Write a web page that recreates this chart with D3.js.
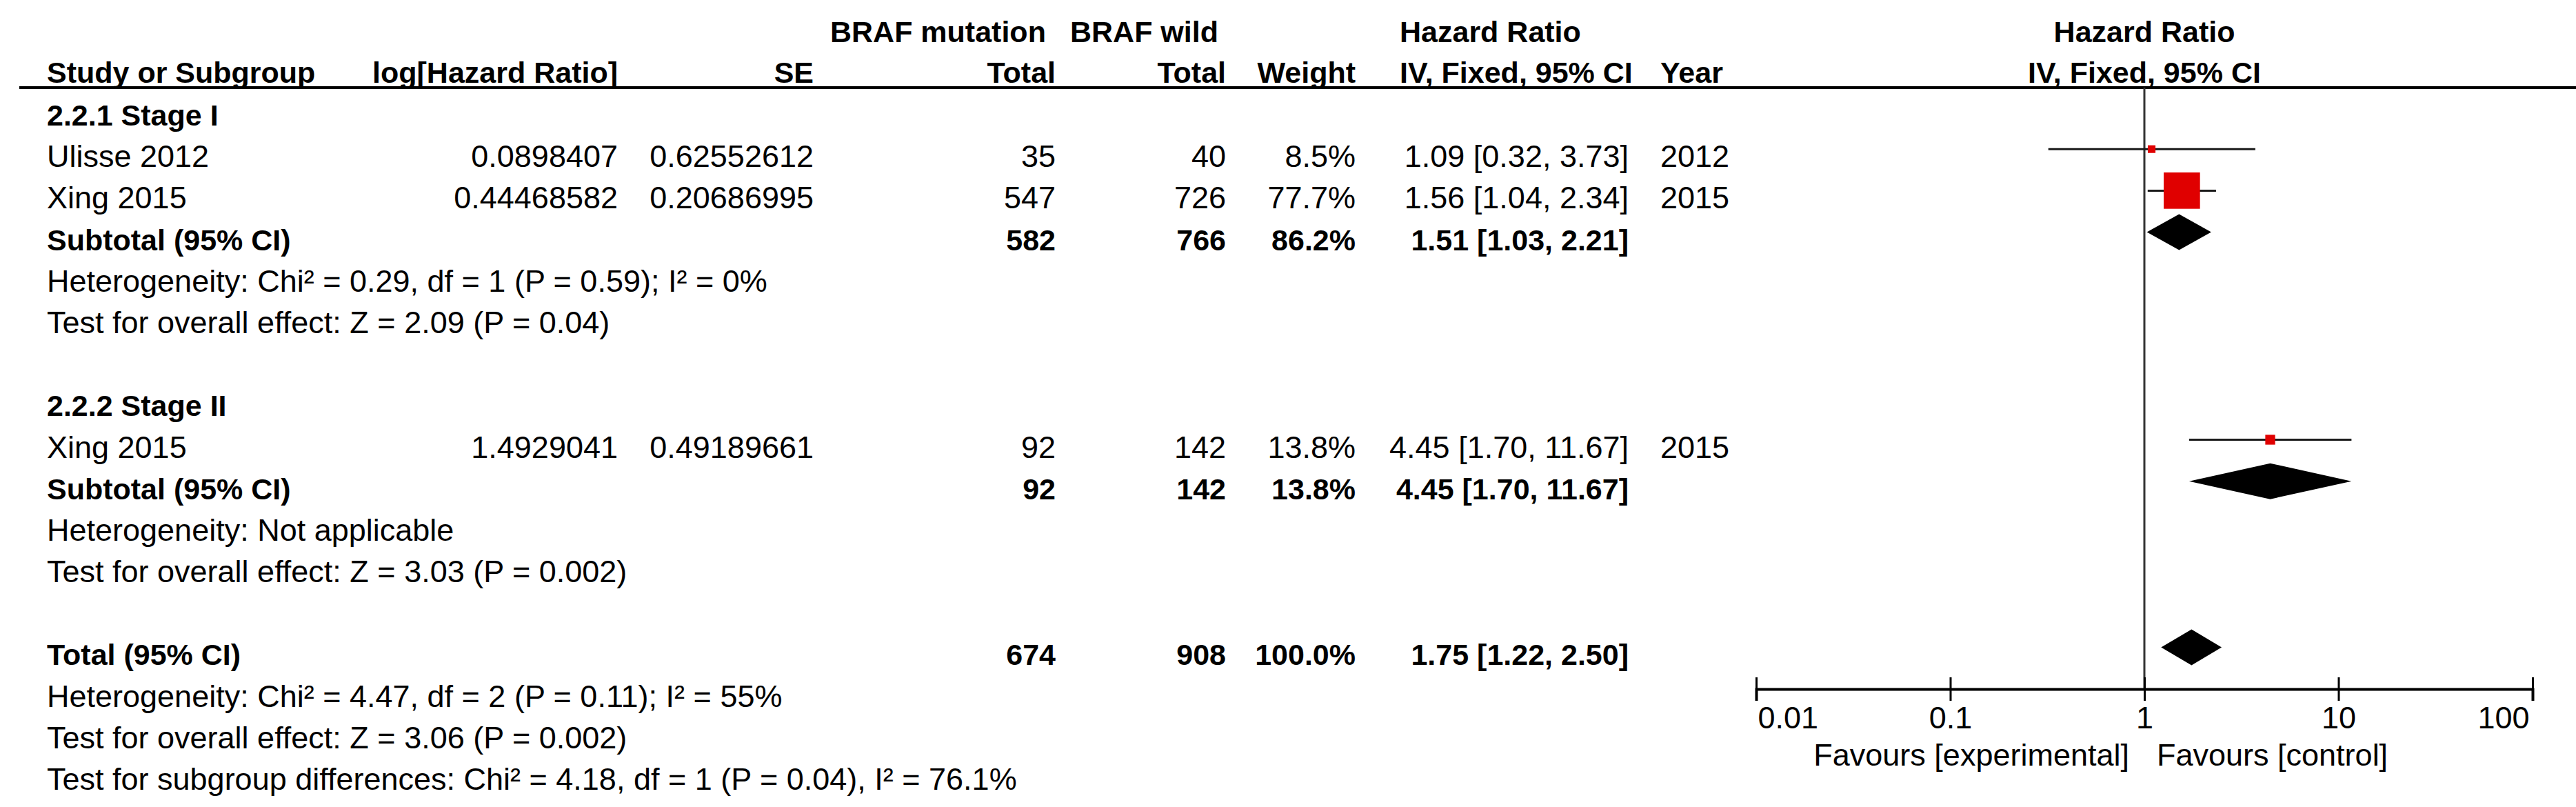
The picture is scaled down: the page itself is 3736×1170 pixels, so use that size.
<!DOCTYPE html>
<html>
<head>
<meta charset="utf-8">
<script src="https://cdn.jsdelivr.net/npm/d3@7"></script>
<style>
html,body{margin:0;padding:0;background:#fff;}
svg text{font-family:"Liberation Sans",Arial,sans-serif;fill:#000;}
</style>
</head>
<body>
<svg id="chart" width="3736" height="1170"></svg>
<script>
// ---------- data ----------
const groupNames = ["2.2.1 Stage I", "2.2.2 Stage II"];
const studyNames = ["Ulisse 2012", "Xing 2015", "Xing 2015"];
const studyGroup = [0, 0, 1];
const logHR = ["0.0898407", "0.44468582", "1.4929041"];
const seVals = ["0.62552612", "0.20686995", "0.49189661"];
const mutTotal = [35, 547, 92];
const wildTotal = [40, 726, 142];
const weights = [8.5, 77.7, 13.8];
const hrVals = [1.09, 1.56, 4.45];
const hrLow = [0.32, 1.04, 1.70];
const hrHigh = [3.73, 2.34, 11.67];
const years = [2012, 2015, 2015];

const subMut = [582, 92];
const subWild = [766, 142];
const subWeight = [86.2, 13.8];
const subHR = [1.51, 4.45];
const subLow = [1.03, 1.70];
const subHigh = [2.21, 11.67];
const subHet = ["Heterogeneity: Chi² = 0.29, df = 1 (P = 0.59); I² = 0%", "Heterogeneity: Not applicable"];
const subEffect = ["Test for overall effect: Z = 2.09 (P = 0.04)", "Test for overall effect: Z = 3.03 (P = 0.002)"];

const totalMut = 674;
const totalWild = 908;
const totalWeight = 100.0;
const totalHR = 1.75, totalLow = 1.22, totalHigh = 2.50;
const totalNotes = [
  "Heterogeneity: Chi² = 4.47, df = 2 (P = 0.11); I² = 55%",
  "Test for overall effect: Z = 3.06 (P = 0.002)",
  "Test for subgroup differences: Chi² = 4.18, df = 1 (P = 0.04), I² = 76.1%"
];

const tickValues = [0.01, 0.1, 1, 10, 100];
const tickLabels = ["0.01", "0.1", "1", "10", "100"];
const favourLabels = ["Favours [experimental]", "Favours [control]"];

// ---------- layout ----------
const svg = d3.select("#chart");
const rowY = d3.scaleLinear().domain([0, 16]).range([182, 1145]);
const x = d3.scaleLog().domain([0.01, 100]).range([2547, 3673]);
const boxSize = d3.scaleLinear().domain([0, 100]).range([6, 66]);
const fmt2 = d3.format(".2f");
const fmt1 = d3.format(".1f");
const REG = 45, BOLD = 43, MARK_OFF = 26;

const col = {study: 68, logHR: 896, se: 1180, mut: 1531, wild: 1778, weight: 1966, hr: 2362, year: 2408};

function txt(xp, yp, s, opts = {}) {
  return svg.append("text")
    .attr("x", xp).attr("y", yp)
    .attr("text-anchor", opts.anchor || "start")
    .attr("font-size", opts.bold ? BOLD : REG)
    .attr("font-weight", opts.bold ? "bold" : "normal")
    .text(s);
}
const ciText = (h, l, u) => `${fmt2(h)} [${fmt2(l)}, ${fmt2(u)}]`;

// headers
const h1 = 61, h2 = 120;
txt(1204, h1, "BRAF mutation", {bold: true});
txt(1552, h1, "BRAF wild", {bold: true});
txt(2030, h1, "Hazard Ratio", {bold: true});
txt(x(1), h1, "Hazard Ratio", {bold: true, anchor: "middle"});
txt(col.study, h2, "Study or Subgroup", {bold: true});
txt(col.logHR, h2, "log[Hazard Ratio]", {bold: true, anchor: "end"});
txt(col.se, h2, "SE", {bold: true, anchor: "end"});
txt(col.mut, h2, "Total", {bold: true, anchor: "end"});
txt(col.wild, h2, "Total", {bold: true, anchor: "end"});
txt(col.weight, h2, "Weight", {bold: true, anchor: "end"});
txt(2030, h2, "IV, Fixed, 95% CI", {bold: true});
txt(col.year, h2, "Year", {bold: true});
txt(x(1), h2, "IV, Fixed, 95% CI", {bold: true, anchor: "middle"});

// header rule
svg.append("line").attr("x1", 28).attr("x2", 3736).attr("y1", 127).attr("y2", 127)
  .attr("stroke", "#000").attr("stroke-width", 4);

// null line
svg.append("line").attr("x1", x(1)).attr("x2", x(1)).attr("y1", 127).attr("y2", 998)
  .attr("stroke", "#333").attr("stroke-width", 3);

// rows
const marks = svg.append("g");
function diamond(yc, h, l, u) {
  const hh = 26;
  marks.append("path")
    .attr("d", `M${x(l)},${yc} L${x(h)},${yc - hh} L${x(u)},${yc} L${x(h)},${yc + hh} Z`)
    .attr("fill", "#000");
}

let r = 0;
groupNames.forEach((g, gi) => {
  txt(col.study, rowY(r), g, {bold: true});
  r++;
  studyNames.forEach((s, i) => {
    if (studyGroup[i] !== gi) return;
    const y = rowY(r);
    txt(col.study, y, s);
    txt(col.logHR, y, logHR[i], {anchor: "end"});
    txt(col.se, y, seVals[i], {anchor: "end"});
    txt(col.mut, y, mutTotal[i], {anchor: "end"});
    txt(col.wild, y, wildTotal[i], {anchor: "end"});
    txt(col.weight, y, fmt1(weights[i]) + "%", {anchor: "end"});
    txt(col.hr, y, ciText(hrVals[i], hrLow[i], hrHigh[i]), {anchor: "end"});
    txt(col.year, y, years[i]);
    const yc = y - MARK_OFF;
    marks.append("line").attr("x1", x(hrLow[i])).attr("x2", x(hrHigh[i]))
      .attr("y1", yc).attr("y2", yc).attr("stroke", "#1a1a1a").attr("stroke-width", 3);
    const b = boxSize(weights[i]);
    marks.append("rect").attr("x", x(hrVals[i]) - b / 2).attr("y", yc - b / 2)
      .attr("width", b).attr("height", b).attr("fill", "#e00000");
    r++;
  });
  const ys = rowY(r);
  txt(col.study, ys, "Subtotal (95% CI)", {bold: true});
  txt(col.mut, ys, subMut[gi], {bold: true, anchor: "end"});
  txt(col.wild, ys, subWild[gi], {bold: true, anchor: "end"});
  txt(col.weight, ys, fmt1(subWeight[gi]) + "%", {bold: true, anchor: "end"});
  txt(col.hr, ys, ciText(subHR[gi], subLow[gi], subHigh[gi]), {bold: true, anchor: "end"});
  diamond(ys - MARK_OFF, subHR[gi], subLow[gi], subHigh[gi]);
  r++;
  txt(col.study, rowY(r), subHet[gi]); r++;
  txt(col.study, rowY(r), subEffect[gi]); r++;
  r++; // blank
});

const yt = rowY(r);
txt(col.study, yt, "Total (95% CI)", {bold: true});
txt(col.mut, yt, totalMut, {bold: true, anchor: "end"});
txt(col.wild, yt, totalWild, {bold: true, anchor: "end"});
txt(col.weight, yt, fmt1(totalWeight) + "%", {bold: true, anchor: "end"});
txt(col.hr, yt, ciText(totalHR, totalLow, totalHigh), {bold: true, anchor: "end"});
diamond(yt - MARK_OFF, totalHR, totalLow, totalHigh);
r++;
totalNotes.forEach(n => { txt(col.study, rowY(r), n); r++; });

// axis
const axisY = 999;
const axis = d3.axisBottom(x).tickValues(tickValues)
  .tickFormat((d, i) => tickLabels[i]).tickSizeOuter(0).tickSize(17);
const ag = svg.append("g").attr("transform", `translate(0,${axisY})`).call(axis);
ag.select(".domain").attr("stroke", "#000").attr("stroke-width", 4);
ag.selectAll(".tick line").attr("y1", -17).attr("y2", 17).attr("stroke", "#000").attr("stroke-width", 3);
ag.selectAll(".tick text")
  .attr("y", 57).attr("dy", null)
  .attr("font-size", REG)
  .attr("font-family", "'Liberation Sans', Arial, sans-serif")
  .attr("fill", "#000")
  .attr("text-anchor", (d, i) => i === 0 ? "start" : (i === tickValues.length - 1 ? "end" : "middle"));
ag.selectAll(".tick text").attr("x", (d, i) => i === 0 ? 2 : (i === tickValues.length - 1 ? -5 : 0));

txt(x(1) - 22, 1110, favourLabels[0], {anchor: "end"});
txt(x(1) + 18, 1110, favourLabels[1]);
</script>
</body>
</html>
